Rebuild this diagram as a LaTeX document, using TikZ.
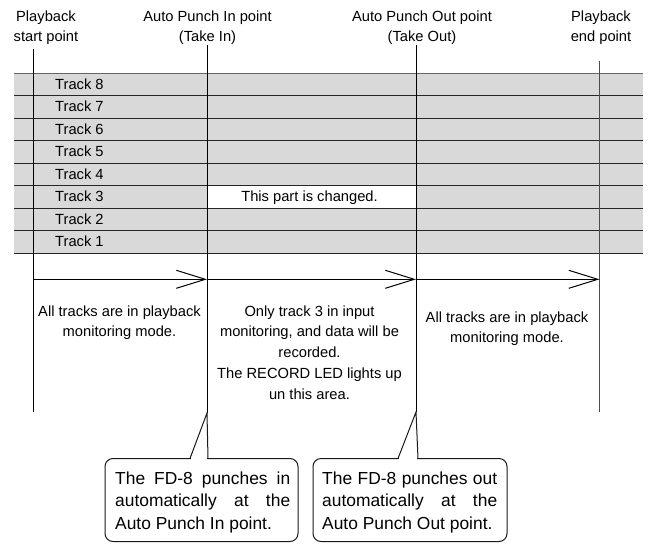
\documentclass[tikz,border=0pt]{standalone}
\usepackage{fontspec}
\setmainfont{Liberation Sans}
\usetikzlibrary{arrows.meta}
\newcommand\txtblock[3]{\parbox[t]{#1}{\centering\fontsize{14.7}{#2}\selectfont #3}}
\newcommand\cotext[1]{\parbox[t]{175pt}{\fontsize{17.4}{22.5}\selectfont #1}}
\definecolor{rowgray}{HTML}{D9D9D9}
\begin{document}
\begin{tikzpicture}[x=1pt,y=-1pt,
  vline/.style={line width=1pt, draw=black},
  hline/.style={line width=1pt, draw=black!85},
  arr/.style={line width=1pt, -{Straight Barb[length=29pt,width=18pt,line width=1pt]}},
  lbl/.style={inner sep=0pt, anchor=base},
  trk/.style={inner sep=0pt, anchor=base west, font=\fontsize{14.7}{18}\selectfont},
  co/.style={line width=1pt, draw=black!90},
]
\useasboundingbox (0,0) rectangle (648,544);

% track rows
\fill[rowgray] (14,73.3) rectangle (643,253.3);
\fill[white] (207,185.8) rectangle (416,208.3);
\foreach \k in {1,...,8} \draw[hline] (14,{73.3+22.5*\k}) -- (643,{73.3+22.5*\k});
\draw[hline, draw=black!60] (14,73.3) -- (643,73.3);

% track labels
\foreach \n [count=\i from 0] in {8,7,6,5,4,3,2,1}
  \node[trk] (t\n) at (55,{89.3+22.5*\i}) {Track \n};
\node[trk, anchor=base] (chg) at (309.5,201.8) {This part is changed.};

% coordinates of the four time points
\coordinate (s0) at (33.5,49);   \coordinate (s1) at (33.5,412);
\coordinate (i0) at (207,45);    \coordinate (ia) at (207,413);
\coordinate (o0) at (416,45);    \coordinate (oa) at (416,412);
\coordinate (e0) at (599.5,61);  \coordinate (e1) at (599.5,412);
\coordinate (a0) at (33.5,279.3);
\coordinate (a1) at (207,279.3);
\coordinate (a2) at (416,279.3);
\coordinate (a3) at (599.5,279.3);

% vertical lines
\draw[vline] (s0) -- (s1);
\draw[vline] (i0) -- (ia);
\draw[vline] (o0) -- (oa);
\draw[vline, draw=black!70] (e0) -- (e1);

% arrows
\draw[arr] (a0) -- (a1);
\draw[arr] (a1) -- (a2);
\draw[arr] (a2) -- (a3);

% top labels
\node[lbl] (lstart) at (46,21) {\txtblock{100pt}{20.5pt}{Playback\\start point}};
\node[lbl] (lin) at (207.5,21) {\txtblock{200pt}{20.5pt}{Auto Punch In point\\(Take In)}};
\node[lbl] (lout) at (422,21) {\txtblock{200pt}{20.5pt}{Auto Punch Out point\\(Take Out)}};
\node[lbl] (lend) at (601,21) {\txtblock{100pt}{20.5pt}{Playback\\end point}};

% region texts
\node[lbl] (r1) at (119.5,316) {\txtblock{180pt}{20.8pt}{All tracks are in playback\\monitoring mode.}};
\node[lbl] (r2) at (309.5,316) {\txtblock{200pt}{20.8pt}{Only track 3 in input\\monitoring, and data will be\\recorded.\\The RECORD LED lights up\\un this area.}};
\node[lbl] (r3) at (507,322) {\txtblock{180pt}{20.8pt}{All tracks are in playback\\monitoring mode.}};

% callout 1
\coordinate (p1l) at (190,458.5);
\coordinate (p1r) at (208,458.5);
\draw[co, rounded corners=8pt] (105,458.5) rectangle (298,541.5);
\fill[white] (190.7,456.5) rectangle (207.3,460.5);
\draw[co] (p1l) -- (ia) -- (p1r);
\node[inner sep=0pt, anchor=base west] (c1) at (115,484) {\cotext{\makebox[175pt][s]{The FD-8 punches in}\\\makebox[175pt][s]{automatically at the}\\Auto Punch In point.}};

% callout 2
\coordinate (p2l) at (398,458.5);
\coordinate (p2r) at (418,458.5);
\draw[co, rounded corners=8pt] (313,458.5) rectangle (507,541.5);
\fill[white] (398.7,456.5) rectangle (417.3,460.5);
\draw[co] (p2l) -- (oa) -- (p2r);
\node[inner sep=0pt, anchor=base west] (c2) at (322,484) {\cotext{\makebox[175pt][s]{The FD-8 punches out}\\\makebox[175pt][s]{automatically at the}\\Auto Punch Out point.}};
\end{tikzpicture}
\end{document}
